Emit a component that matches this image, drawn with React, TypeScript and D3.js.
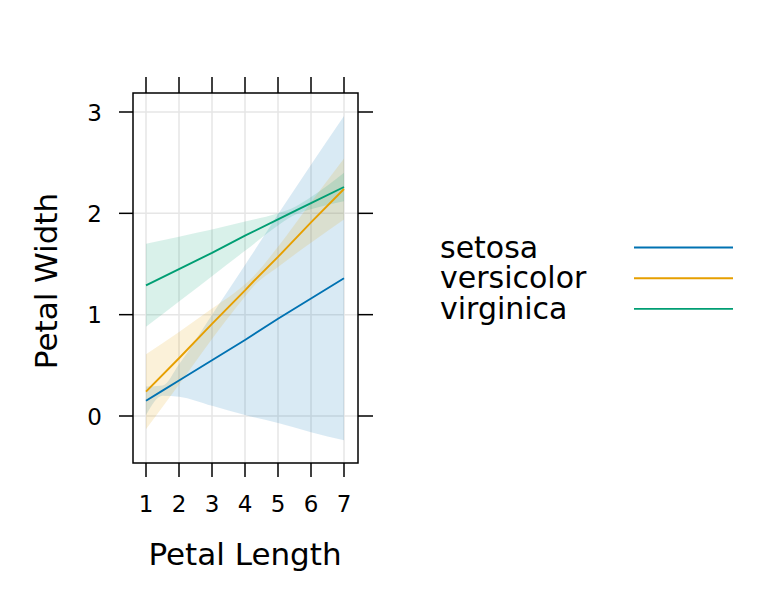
import React, { useEffect, useRef } from "react";
import * as d3 from "d3";

// fitted line + confidence band
const species = ["setosa", "versicolor", "virginica"];
const colors = ["#0072B2", "#E69F00", "#009E73"];

const setosaX = [1, 1.5, 2, 3, 4, 5, 6, 7];
const setosaFit = [0.15, 0.25, 0.35, 0.55, 0.75, 0.96, 1.16, 1.36];
const setosaLo = [0.01, 0.2, 0.19, 0.1, 0.01, -0.07, -0.16, -0.24];
const setosaHi = [0.29, 0.3, 0.51, 1.0, 1.49, 1.99, 2.48, 2.96];

const versicolorX = [1, 2, 3, 4, 4.26, 5, 6, 7];
const versicolorFit = [0.24, 0.57, 0.91, 1.24, 1.33, 1.57, 1.91, 2.24];
const versicolorLo = [-0.13, 0.31, 0.76, 1.18, 1.28, 1.47, 1.71, 1.94];
const versicolorHi = [0.61, 0.83, 1.06, 1.3, 1.38, 1.67, 2.11, 2.54];

const virginicaX = [1, 2, 3, 4, 5, 5.55, 6, 7];
const virginicaFit = [1.29, 1.45, 1.61, 1.78, 1.94, 2.03, 2.1, 2.26];
const virginicaLo = [0.88, 1.13, 1.38, 1.63, 1.88, 1.99, 2.04, 2.12];
const virginicaHi = [1.7, 1.77, 1.84, 1.92, 2.0, 2.07, 2.16, 2.4];

const xTicks = [1, 2, 3, 4, 5, 6, 7];
const yTicks = [0, 1, 2, 3];

export default function App() {
  const svgRef = useRef<SVGSVGElement>(null);

  useEffect(() => {
    if (!svgRef.current) return;
    const svg = d3.select(svgRef.current);
    svg.selectAll("*").remove();

    const left = 133, right = 358, top = 93, bottom = 463;
    const x = d3.scaleLinear().domain([1, 7]).range([146, 344]);
    const y = d3.scaleLinear().domain([0, 3]).range([416, 112]);
    const font = "DejaVu Sans, sans-serif";

    const series = [
      { xs: setosaX, fit: setosaFit, lo: setosaLo, hi: setosaHi },
      { xs: versicolorX, fit: versicolorFit, lo: versicolorLo, hi: versicolorHi },
      { xs: virginicaX, fit: virginicaFit, lo: virginicaLo, hi: virginicaHi },
    ];

    svg.append("rect").attr("width", 768).attr("height", 614).attr("fill", "#fff");

    // grid
    const grid = svg.append("g").attr("stroke", "#e6e6e6").attr("stroke-width", 1.5);
    xTicks.forEach((t) =>
      grid.append("line").attr("x1", x(t)).attr("x2", x(t)).attr("y1", top).attr("y2", bottom)
    );
    yTicks.forEach((t) =>
      grid.append("line").attr("x1", left).attr("x2", right).attr("y1", y(t)).attr("y2", y(t))
    );

    // bands
    series.forEach((s, k) => {
      const pts = s.xs.map((v, i) => ({ x: v, lo: s.lo[i], hi: s.hi[i] }));
      const a = d3
        .area<any>()
        .x((d) => x(d.x))
        .y0((d) => y(d.lo))
        .y1((d) => y(d.hi))
        .curve(d3.curveMonotoneX);
      svg
        .append("path")
        .attr("d", a(pts))
        .attr("fill", colors[k])
        .attr("fill-opacity", 0.15);
    });

    // fitted lines
    series.forEach((s, k) => {
      const pts = s.xs.map((v, i) => [x(v), y(s.fit[i])] as [number, number]);
      svg
        .append("path")
        .attr("d", d3.line()(pts))
        .attr("fill", "none")
        .attr("stroke", colors[k])
        .attr("stroke-width", 1.9);
    });

    // panel border
    svg
      .append("rect")
      .attr("x", left)
      .attr("y", top)
      .attr("width", right - left)
      .attr("height", bottom - top)
      .attr("fill", "none")
      .attr("stroke", "#000")
      .attr("stroke-width", 1.5);

    const ticks = svg.append("g").attr("stroke", "#000").attr("stroke-width", 1.5);
    xTicks.forEach((t) => {
      ticks.append("line").attr("x1", x(t)).attr("x2", x(t)).attr("y1", bottom).attr("y2", bottom + 14);
      ticks.append("line").attr("x1", x(t)).attr("x2", x(t)).attr("y1", top).attr("y2", top - 16);
    });
    yTicks.forEach((t) => {
      ticks.append("line").attr("x1", left).attr("x2", left - 14).attr("y1", y(t)).attr("y2", y(t));
      ticks.append("line").attr("x1", right).attr("x2", right + 15).attr("y1", y(t)).attr("y2", y(t));
    });

    svg
      .append("g")
      .selectAll("text")
      .data(xTicks)
      .enter()
      .append("text")
      .attr("x", (d) => x(d))
      .attr("y", 512)
      .attr("text-anchor", "middle")
      .style("font-family", font)
      .style("font-size", "23px")
      .text((d) => d);

    svg
      .append("g")
      .selectAll("text")
      .data(yTicks)
      .enter()
      .append("text")
      .attr("x", 102)
      .attr("y", (d) => y(d) + 8.5)
      .attr("text-anchor", "end")
      .style("font-family", font)
      .style("font-size", "23px")
      .text((d) => d);

    svg
      .append("text")
      .attr("x", 245)
      .attr("y", 565)
      .attr("text-anchor", "middle")
      .style("font-family", font)
      .style("font-size", "31px")
      .text("Petal Length");

    svg
      .append("text")
      .attr("transform", "translate(57,281) rotate(-90)")
      .attr("text-anchor", "middle")
      .style("font-family", font)
      .style("font-size", "31px")
      .text("Petal Width");

    // legend
    species.forEach((name, k) => {
      const cy = 247.5 + k * 30.7;
      svg
        .append("text")
        .attr("x", 440)
        .attr("y", cy + 10)
        .style("font-family", font)
        .style("font-size", "30px")
        .text(name);
      svg
        .append("line")
        .attr("x1", 634)
        .attr("x2", 733)
        .attr("y1", cy)
        .attr("y2", cy)
        .attr("stroke", colors[k])
        .attr("stroke-width", 1.9);
    });
  }, []);

  return <svg ref={svgRef} width={768} height={614} style={{ display: "block", margin: -8 }} />;
}
